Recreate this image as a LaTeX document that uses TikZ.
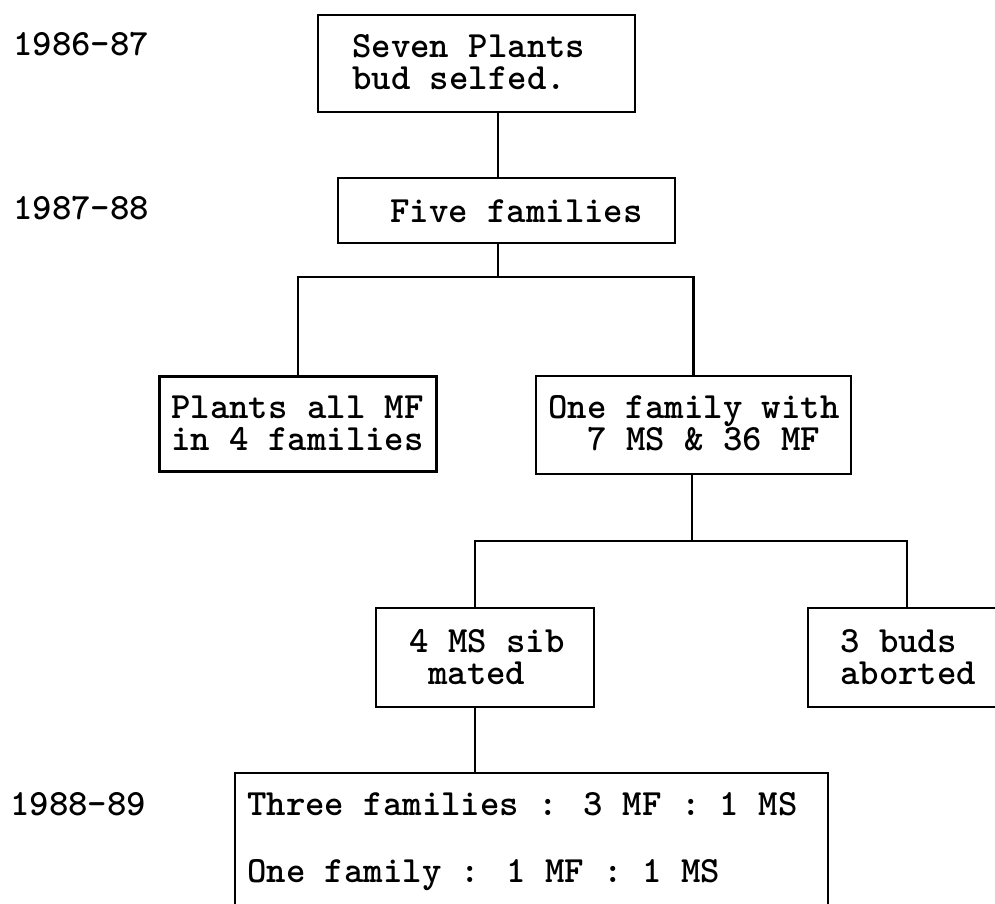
\documentclass[tikz,border=0pt]{standalone}
\usepackage{fontspec}
\begin{document}
\begin{tikzpicture}[x=1pt,y=-1pt,
  box/.style={draw, line width=2.5pt, inner sep=0pt},
  txt/.style={anchor=base west, inner sep=0pt, font=\ttfamily\bfseries\fontsize{37}{40}\selectfont},
  conn/.style={line width=2.5pt, line cap=rect}]
\clip (0,0) rectangle (995,903);
\fill[white] (0,0) rectangle (995,903);
% year labels
\node[txt] (y1) at (13,55) {1986-87};
\node[txt] (y2) at (13,219) {1987-88};
\node[txt] (y3) at (10,815) {1988-89};
% boxes
\node[box, minimum width=317pt, minimum height=97pt] (b1) at (476.5,63.5) {};
\node[box, minimum width=337pt, minimum height=65pt] (b2) at (506.5,210.5) {};
\node[box, minimum width=277pt, minimum height=95pt] (b3) at (298,424) {};
\node[box, minimum width=315pt, minimum height=98pt] (b4) at (693.5,425) {};
\node[box, minimum width=218pt, minimum height=99pt] (b5) at (485,657.5) {};
\node[box, minimum width=230pt, minimum height=99pt] (b6) at (923,657.5) {};
\node[box, minimum width=593pt, minimum height=170pt] (b7) at (531.5,858) {};
% texts
\node[txt] (t1a) at (352,57) {Seven Plants};
\node[txt] (t1b) at (352,89) {bud selfed.};
\node[txt] (t2) at (390,222) {Five families};
\node[txt] (t3a) at (171,418) {Plants all MF};
\node[txt] (t3b) at (171,450) {in 4 families};
\node[txt] (t4a) at (548,418) {One family with};
\node[txt] (t4b) at (587,450) {7 MS \& 36 MF};
\node[txt] (t5a) at (409,652) {4 MS sib};
\node[txt] (t5b) at (428,684) {mated};
\node[txt] (t6a) at (840,652) {3 buds};
\node[txt] (t6b) at (840,684) {aborted};
\node[txt] (t7a) at (247,815) {Three families : 3 MF : 1 MS};
\node[txt] (t7b) at (247,882) {One family : 1 MF : 1 MS};
% junctions
\coordinate (j1) at (498,277);
\coordinate (j2) at (692,541);
\coordinate (k5) at (475,541);
\coordinate (k6) at (907,541);
% connectors
\draw[conn] (b1.south -| j1) -- (b2.north -| j1);
\draw[conn] (b2.south -| j1) -- (j1);
\draw[conn] (b3.north) |- (j1) -| (b4.north);
\draw[conn] (b4.south -| j2) -- (j2);
\draw[conn] (k5) -- (k6);
\draw[conn] (k5) -- (b5.north -| k5);
\draw[conn] (k6) -- (b6.north -| k6);
\draw[conn] (b5.south -| k5) -- (b7.north -| k5);
\end{tikzpicture}
\end{document}
